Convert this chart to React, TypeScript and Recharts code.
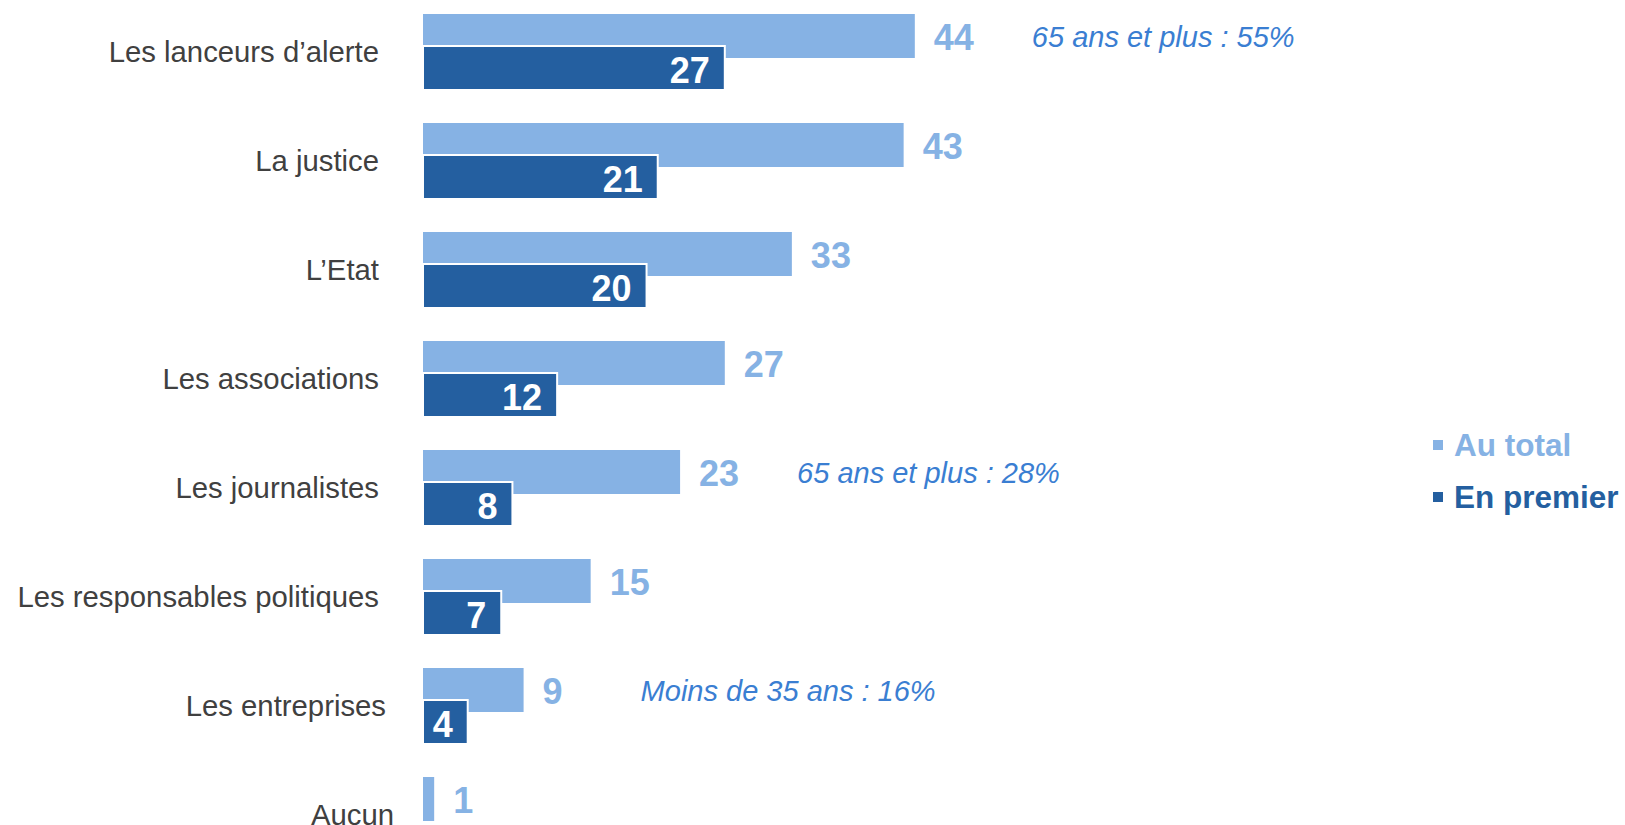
import React from "react";
import { BarChart, Bar, XAxis, YAxis, LabelList, Legend } from "recharts";

const categories = [
  "Les lanceurs d’alerte",
  "La justice",
  "L’Etat",
  "Les associations",
  "Les journalistes",
  "Les responsables politiques",
  "Les entreprises",
  "Aucun",
];
const auTotal = [44, 43, 33, 27, 23, 15, 9, 1];
const enPremier: (number | null)[] = [27, 21, 20, 12, 8, 7, 4, null];
const notes: (string | null)[] = [
  "65 ans et plus : 55%",
  null,
  null,
  null,
  "65 ans et plus : 28%",
  null,
  "Moins de 35 ans : 16%",
  null,
];
const seriesNames = ["Au total", "En premier"];

const LIGHT = "#86B2E4";
const DARK = "#245FA0";
const NOTE = "#3A7ED2";
const TEXT = "#404040";
const FONT = "Arial, 'Liberation Sans', sans-serif";

const labelShift: Record<string, number> = { "Les entreprises": 7, Aucun: 15 };

const data = categories.map((name, i) => ({
  name,
  total: auTotal[i],
  premier: enPremier[i],
  note: notes[i],
}));

const boxOf = (p: any) => {
  const vb = p.viewBox || {};
  return {
    x: p.x ?? vb.x,
    y: p.y ?? vb.y,
    width: p.width ?? vb.width,
    height: p.height ?? vb.height,
  };
};

const CategoryTick = (props: any) => {
  const { y, payload } = props;
  const shift = labelShift[payload.value] || 0;
  return (
    <text
      x={379 + shift}
      y={y}
      dy="0.36em"
      textAnchor="end"
      fill={TEXT}
      fontSize={29.3}
      fontFamily={FONT}
    >
      {payload.value}
    </text>
  );
};

const NoteLabel = (props: any) => {
  const idx = props.index;
  const note = notes[idx];
  if (!note) return null;
  const b = boxOf(props);
  return (
    <text
      x={b.x + b.width + 117}
      y={b.y + b.height / 2 + 1}
      dy="0.36em"
      fill={NOTE}
      fontSize={29}
      fontStyle="italic"
      fontFamily={FONT}
    >
      {note}
    </text>
  );
};

const DarkLabel = (props: any) => {
  const v = props.value;
  if (v === null || v === undefined || v === 0) return null;
  const b = boxOf(props);
  return (
    <text
      x={b.x + b.width - 15}
      y={b.y + b.height / 2 + 2}
      dy="0.36em"
      textAnchor="end"
      fill="#ffffff"
      fontSize={36}
      fontWeight="bold"
      fontFamily={FONT}
    >
      {v}
    </text>
  );
};

const LightLabel = (props: any) => {
  const v = props.value;
  const b = boxOf(props);
  return (
    <text
      x={b.x + b.width + 19}
      y={b.y + b.height / 2 + 1}
      dy="0.36em"
      textAnchor="start"
      fill={LIGHT}
      fontSize={36}
      fontWeight="bold"
      fontFamily={FONT}
    >
      {v}
    </text>
  );
};

const LegendContent = () => {
  const colors = [LIGHT, DARK];
  return (
    <div style={{ fontFamily: FONT }}>
      {seriesNames.map((n, i) => (
        <div
          key={n}
          style={{
            display: "flex",
            alignItems: "center",
            height: 52,
            fontSize: 31.5,
            fontWeight: "bold",
            color: colors[i],
            whiteSpace: "nowrap",
          }}
        >
          <span
            style={{
              display: "inline-block",
              width: 10,
              height: 10,
              background: colors[i],
              marginRight: 11,
            }}
          />
          {n}
        </div>
      ))}
    </div>
  );
};

export default function App() {
  return (
    <div style={{ position: "absolute", left: 0, top: -3 }}>
      <BarChart
        width={1625}
        height={872}
        data={data}
        layout="vertical"
        margin={{ top: 0, right: 4, bottom: 0, left: 0 }}
        barGap={-12}
        barCategoryGap={16}
      >
        <XAxis type="number" domain={[0, 90]} hide />
        <YAxis
          type="category"
          dataKey="name"
          width={423}
          axisLine={false}
          tickLine={false}
          tick={<CategoryTick />}
          interval={0}
        />
        <Legend
          layout="vertical"
          align="right"
          verticalAlign="middle"
          content={<LegendContent />}
          wrapperStyle={{ position: "absolute", left: 1433, top: 422, width: 192 }}
        />
        <Bar
          dataKey="total"
          name={seriesNames[0]}
          fill={LIGHT}
          barSize={44}
          isAnimationActive={false}
        >
          <LabelList dataKey="total" content={<LightLabel />} />
          <LabelList dataKey="total" content={<NoteLabel />} />
        </Bar>
        <Bar
          dataKey="premier"
          name={seriesNames[1]}
          fill={DARK}
          stroke="#ffffff"
          strokeWidth={2}
          barSize={44}
          isAnimationActive={false}
        >
          <LabelList dataKey="premier" content={<DarkLabel />} />
        </Bar>
      </BarChart>
    </div>
  );
}
